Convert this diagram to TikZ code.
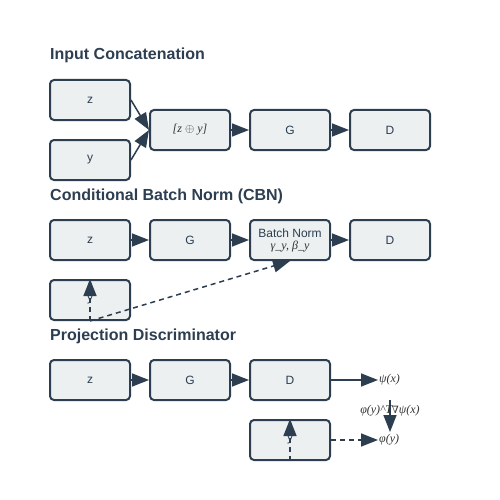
\documentclass[tikz,border=0pt]{standalone}
\usepackage{fontspec}
\setmainfont{Liberation Serif}
\setsansfont{Liberation Sans}
\newfontfamily\symf{DejaVu Serif}
\usetikzlibrary{arrows.meta}
\definecolor{dk}{HTML}{2C3E50}
\definecolor{bx}{HTML}{ECF0F1}
\definecolor{lb}{HTML}{333333}
\begin{document}
\begin{tikzpicture}[x=1pt,y=-1pt,
  box/.style={draw=dk,line width=2pt,fill=bx,rounded corners=4pt,minimum width=80pt,minimum height=40pt,inner sep=0pt,font=\sffamily\fontsize{12}{14}\selectfont,text=dk},
  ttl/.style={anchor=base west,inner sep=0pt,font=\sffamily\bfseries\fontsize{16}{18}\selectfont,text=dk},
  lbl/.style={font=\itshape\fontsize{12}{14}\selectfont,text=lb,inner sep=1pt},
  arr/.style={draw=dk,line width=1.5pt,-{Triangle[length=17pt,width=13pt]}},
  darr/.style={arr,dash pattern=on 5pt off 4pt}]
\useasboundingbox (0,0) rectangle (500,500);
% Input concatenation
\node[ttl] (t1) at (50,60) {Input Concatenation};
\node[box] (z1) at (90,100) {z};
\node[box] (y1) at (90,160) {y};
\node[box] (c1) at (190,130) {\rmfamily\itshape\color{lb}[z $\oplus$ y]};
\node[box] (g1) at (290,130) {G};
\node[box] (d1) at (390,130) {D};
\draw[arr] (z1.east) -- (c1.west);
\draw[arr] (y1.east) -- (c1.west);
\draw[arr] (c1) -- (g1);
\draw[arr] (g1) -- (d1);
% CBN
\node[ttl] (t2) at (50,200) {Conditional Batch Norm (CBN)};
\node[box] (z2) at (90,240) {z};
\node[box] (g2) at (190,240) {G};
\node[box,align=center] (b2) at (290,240) {Batch Norm\\[-2pt]{\rmfamily\itshape\color{lb}γ\_y, β\_y}};
\node[box] (d2) at (390,240) {D};
\node[box] (y2) at (90,300) {y};
\draw[arr] (z2) -- (g2);
\draw[arr] (g2) -- (b2);
\draw[arr] (b2) -- (d2);
\draw[darr] (y2.south) -- (y2.north);
\draw[darr] (y2.south) -- (b2.south);
% Projection discriminator
\node[ttl] (t3) at (50,340) {Projection Discriminator};
\node[box] (z3) at (90,380) {z};
\node[box] (g3) at (190,380) {G};
\node[box] (d3) at (290,380) {D};
\node[box] (y3) at (290,440) {y};
\node[lbl,anchor=west] (psi) at (378,380) {ψ(x)};
\node[lbl,anchor=west] (phi) at (378,440) {φ(y)};
\coordinate (p1) at (390,400);
\coordinate (p2) at (390,432);
\draw[arr] (z3) -- (g3);
\draw[arr] (g3) -- (d3);
\draw[arr] (d3.east) -- (psi.west);
\draw[darr] (y3.south) -- (y3.north);
\draw[darr] (y3.east) -- (phi.west);
\draw[arr] (p1) -- (p2);
\node[lbl] (dot) at (390,411) {φ(y)\^{}T{\symf\upshape\fontsize{10}{12}\selectfont ∇}ψ(x)};
\end{tikzpicture}
\end{document}
